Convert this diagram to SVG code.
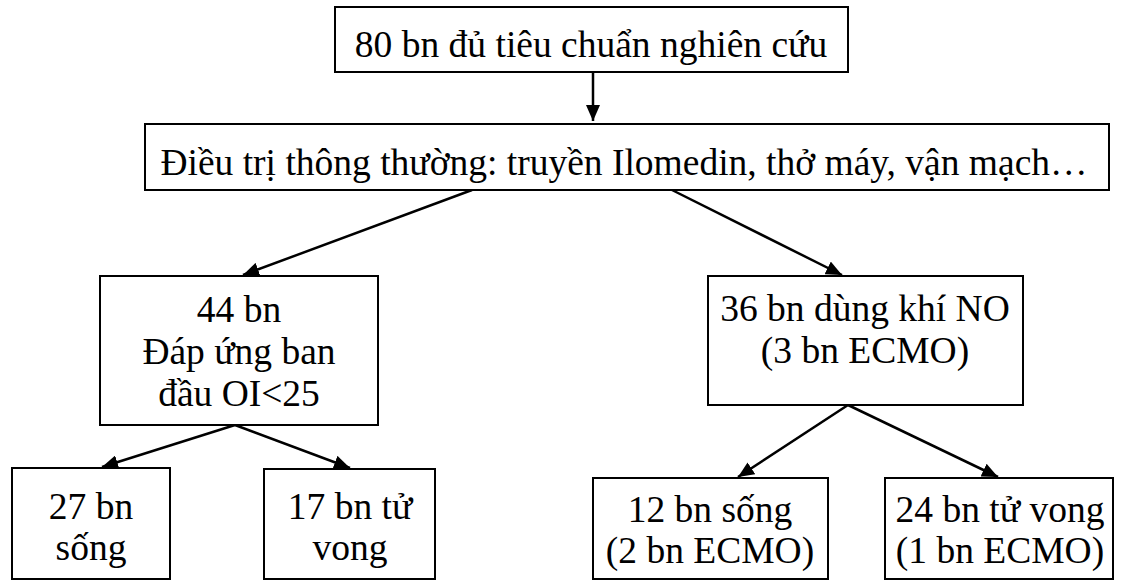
<svg xmlns="http://www.w3.org/2000/svg" width="1125" height="581" viewBox="0 0 1125 581">
  <style>
    .box { fill: #ffffff; stroke: #000000; stroke-width: 2; }
    .lbl { font-family: "Liberation Serif", "Times New Roman", serif; font-size: 37.5px; fill: #000000; text-anchor: middle; }
    .edge { stroke: #000000; stroke-width: 2.5; fill: none; marker-end: url(#arrow); }
  </style>
  <defs>
    <marker id="arrow" markerUnits="userSpaceOnUse" markerWidth="17" markerHeight="14" refX="16" refY="7" orient="auto">
      <path d="M0,0 L16,7 L0,14 z" fill="#000000"/>
    </marker>
  </defs>
  <rect width="1125" height="581" fill="#ffffff"/>

  <!-- connectors -->
  <g id="connectors">
    <line class="edge" x1="593" y1="72" x2="593" y2="121"/>
    <line class="edge" x1="472" y1="190" x2="243" y2="275"/>
    <line class="edge" x1="672" y1="190" x2="842" y2="275"/>
    <line class="edge" x1="235" y1="425" x2="102" y2="467"/>
    <line class="edge" x1="235" y1="425" x2="350" y2="468"/>
    <line class="edge" x1="848" y1="405" x2="738" y2="477"/>
    <line class="edge" x1="848" y1="405" x2="998" y2="477"/>
  </g>

  <!-- nodes -->
  <g id="n-study">
    <rect class="box" x="335" y="7" width="513" height="65"/>
    <text class="lbl" x="591" y="57">80 bn đủ tiêu chuẩn nghiên cứu</text>
  </g>
  <g id="n-standard">
    <rect class="box" x="145" y="124" width="964" height="66"/>
    <text class="lbl" x="624" y="175">Điều trị thông thường: truyền Ilomedin, thở máy, vận mạch…</text>
  </g>
  <g id="n-responders">
    <rect class="box" x="100" y="276" width="278" height="149"/>
    <text class="lbl" x="239" y="322">44 bn</text>
    <text class="lbl" x="239" y="364">Đáp ứng ban</text>
    <text class="lbl" x="239" y="406">đầu OI&lt;25</text>
  </g>
  <g id="n-no">
    <rect class="box" x="708" y="276" width="315" height="129"/>
    <text class="lbl" x="865" y="321">36 bn dùng khí NO</text>
    <text class="lbl" x="865" y="363">(3 bn ECMO)</text>
  </g>
  <g id="n-resp-alive">
    <rect class="box" x="12" y="468" width="158" height="111"/>
    <text class="lbl" x="91" y="519">27 bn</text>
    <text class="lbl" x="91" y="560">sống</text>
  </g>
  <g id="n-resp-dead">
    <rect class="box" x="264" y="469" width="171" height="110"/>
    <text class="lbl" x="350" y="519">17 bn tử</text>
    <text class="lbl" x="350" y="560">vong</text>
  </g>
  <g id="n-no-alive">
    <rect class="box" x="593" y="478" width="235" height="101"/>
    <text class="lbl" x="710" y="522">12 bn sống</text>
    <text class="lbl" x="710" y="563">(2 bn ECMO)</text>
  </g>
  <g id="n-no-dead">
    <rect class="box" x="885" y="478" width="228" height="101"/>
    <text class="lbl" x="1000" y="522">24 bn tử vong</text>
    <text class="lbl" x="1000" y="563">(1 bn ECMO)</text>
  </g>
</svg>
